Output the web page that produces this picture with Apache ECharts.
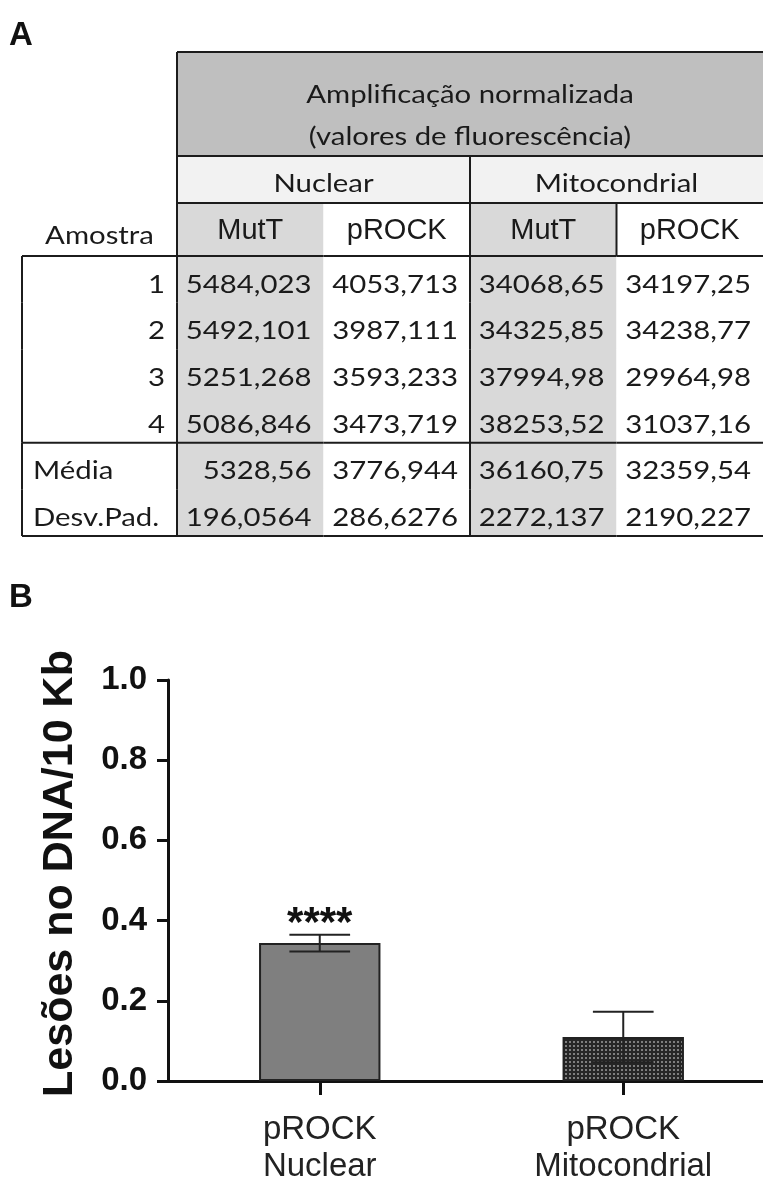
<!DOCTYPE html>
<html>
<head>
<meta charset="utf-8">
<script src="https://cdn.jsdelivr.net/npm/echarts@6/dist/echarts.min.js"></script>
<style>
  html, body { margin: 0; padding: 0; background: #fff; }
  #chart { width: 763px; height: 1180px; }
</style>
</head>
<body>
<div id="chart"></div>
<script>
// ---- Panel A: normalised amplification (fluorescence values) ----
const tableTitle = ['Amplificação normalizada', '(valores de fluorescência)'];
const groups = ['Nuclear', 'Mitocondrial'];
const subColumns = ['MutT', 'pROCK', 'MutT', 'pROCK'];
const sampleHeader = 'Amostra';
const rowLabels = ['1', '2', '3', '4', 'Média', 'Desv.Pad.'];
const nuclearMutT  = ['5484,023', '5492,101', '5251,268', '5086,846', '5328,56', '196,0564'];
const nuclearPROCK = ['4053,713', '3987,111', '3593,233', '3473,719', '3776,944', '286,6276'];
const mitoMutT     = ['34068,65', '34325,85', '37994,98', '38253,52', '36160,75', '2272,137'];
const mitoPROCK    = ['34197,25', '34238,77', '29964,98', '31037,16', '32359,54', '2190,227'];

// ---- Panel B: DNA lesions per 10 kb ----
const barCategories = ['pROCK\nNuclear', 'pROCK\nMitocondrial'];
const lesionMean = [0.344, 0.110];
const lesionSD = [0.021, 0.063];
const significance = ['****', ''];
const yAxisTitle = 'Lesões no DNA/10 Kb';

// ---- styling ----
const TABLE_FONT = 'Lato';
const HEAD_FONT = 'Liberation Sans';
const CHART_FONT = 'Liberation Sans';
const INK = '#1a1a1a';
const RULE = '#1c1c1c';
const SHADE = '#d9d9d9';
const SX = 1.15;              // horizontal stretch of the table lettering

const bodyColumns = [nuclearMutT, nuclearPROCK, mitoMutT, mitoPROCK];
const bodyCells = [];
bodyColumns.forEach((col, c) => col.forEach((v, r) => bodyCells.push([c, r, v])));

function band(api, x, y) {
  const c = api.coord([x, y]);
  const s = api.size([1, 1]);
  return { x: c[0] - s[0] / 2, y: c[1] - s[1] / 2, w: s[0], h: s[1] };
}
function rule(x1, y1, x2, y2) {
  return { type: 'line', z2: 20, shape: { x1, y1, x2, y2 }, style: { stroke: RULE, lineWidth: 2 } };
}
function fill(b, color) {
  return { type: 'rect', z2: 1, shape: { x: b.x, y: b.y - 0.5, width: b.w, height: b.h + 1 }, style: { fill: color } };
}
function label(text, x, y, align, o) {
  o = o || {};
  return {
    type: 'text', x, y, z2: 10, scaleX: o.scaleX != null ? o.scaleX : SX,
    style: {
      text, fill: INK, align, verticalAlign: 'middle',
      fontFamily: o.family || TABLE_FONT, fontSize: o.size || 25.5,
      lineHeight: o.lineHeight || 30
    }
  };
}

// dotted fill for the mitochondrial bar
const dots = document.createElement('canvas');
dots.width = 4; dots.height = 4;
(function () {
  const g = dots.getContext('2d');
  g.fillStyle = '#262626'; g.fillRect(0, 0, 4, 4);
  g.fillStyle = '#7e7e7e'; g.fillRect(1, 1, 2, 2);
})();
const barFills = ['#7f7f7f', { image: dots, repeat: 'repeat' }];

const hiddenCat = (gridIndex, data, inverse) =>
  ({ type: 'category', gridIndex, data, show: false, inverse: !!inverse });
const fixedGrid = g => Object.assign({ outerBoundsMode: 'none', containLabel: false }, g);

const chart = echarts.init(document.getElementById('chart'), null, { renderer: 'canvas' });

chart.setOption({
  animation: false,
  backgroundColor: '#fff',
  title: [
    { text: 'A', left: 9, top: 19, padding: 0, textStyle: { fontFamily: CHART_FONT, fontWeight: 'bold', fontSize: 33, color: '#111' } },
    { text: 'B', left: 9, top: 581, padding: 0, textStyle: { fontFamily: CHART_FONT, fontWeight: 'bold', fontSize: 33, color: '#111' } }
  ],
  grid: [
    fixedGrid({ left: 177, right: 0, top: 52, height: 104 }),    // title row
    fixedGrid({ left: 177, right: 0, top: 156, height: 47 }),    // Nuclear / Mitocondrial
    fixedGrid({ left: 177, right: 0, top: 203, height: 53 }),    // MutT / pROCK
    fixedGrid({ left: 177, right: 0, top: 256, height: 280 }),   // values
    fixedGrid({ left: 22, width: 155, top: 256, height: 280 }),  // sample labels
    fixedGrid({ left: 22, width: 155, top: 203, height: 53 }),   // "Amostra"
    fixedGrid({ left: 168, width: 607, top: 680, height: 401 })  // bar chart
  ],
  xAxis: [
    hiddenCat(0, ['t']),
    hiddenCat(1, groups),
    hiddenCat(2, ['0', '1', '2', '3']),
    hiddenCat(3, ['0', '1', '2', '3']),
    hiddenCat(4, ['s']),
    hiddenCat(5, ['s']),
    {
      type: 'category', gridIndex: 6, data: barCategories,
      axisLine: { show: true, lineStyle: { color: '#111', width: 3 } },
      axisTick: { show: true, alignWithLabel: true, length: 14, lineStyle: { color: '#111', width: 3 } },
      axisLabel: { fontFamily: CHART_FONT, fontSize: 33, lineHeight: 37, color: '#222', margin: 30 },
      splitLine: { show: false }
    }
  ],
  yAxis: [
    hiddenCat(0, ['t']),
    hiddenCat(1, ['g']),
    hiddenCat(2, ['s']),
    hiddenCat(3, rowLabels, true),
    hiddenCat(4, rowLabels, true),
    hiddenCat(5, ['h']),
    {
      type: 'value', gridIndex: 6, min: 0, max: 1, interval: 0.2,
      axisLine: { show: true, lineStyle: { color: '#111', width: 3 } },
      axisTick: { show: true, length: 11, lineStyle: { color: '#111', width: 3 } },
      splitLine: { show: false },
      axisLabel: {
        formatter: v => v.toFixed(1), fontFamily: CHART_FONT, fontWeight: 'bold',
        fontSize: 33, color: '#111', margin: 21
      },
      name: yAxisTitle, nameLocation: 'middle', nameRotate: 90, nameGap: 86,
      nameTextStyle: { fontFamily: CHART_FONT, fontWeight: 'bold', fontSize: 43, color: '#111', padding: [0, 0, 0, 14] }
    }
  ],
  series: [
    { // title row
      type: 'custom', xAxisIndex: 0, yAxisIndex: 0, data: [[0, 0]], silent: true,
      renderItem(params, api) {
        const b = band(api, 0, 0);
        return { type: 'group', children: [
          fill(b, '#bfbfbf'),
          rule(b.x, b.y, b.x + b.w, b.y),
          rule(b.x, b.y, b.x, b.y + b.h),
          rule(b.x, b.y + b.h, b.x + b.w, b.y + b.h),
          label(tableTitle.join('\n'), b.x + b.w / 2, b.y + b.h / 2 + 12, 'center', { lineHeight: 42 })
        ] };
      }
    },
    { // Nuclear / Mitocondrial
      type: 'custom', xAxisIndex: 1, yAxisIndex: 1, data: groups.map((g, i) => [i, 0]), silent: true,
      renderItem(params, api) {
        const i = api.value(0);
        const b = band(api, i, 0);
        return { type: 'group', children: [
          fill(b, '#f2f2f2'),
          rule(b.x, b.y, b.x, b.y + b.h),
          rule(b.x, b.y + b.h, b.x + b.w, b.y + b.h),
          label(groups[i], b.x + b.w / 2, b.y + b.h / 2 + 4.5, 'center')
        ] };
      }
    },
    { // MutT / pROCK
      type: 'custom', xAxisIndex: 2, yAxisIndex: 2, data: subColumns.map((s, i) => [i, 0]), silent: true,
      renderItem(params, api) {
        const i = api.value(0);
        const b = band(api, i, 0);
        const kids = [
          fill(b, i % 2 === 0 ? SHADE : '#fff'),
          rule(b.x, b.y + b.h, b.x + b.w, b.y + b.h),
          label(subColumns[i], b.x + b.w / 2, b.y + b.h / 2 + 1, 'center', { family: HEAD_FONT, size: 29, scaleX: 1 })
        ];
        if (i !== 1) kids.push(rule(b.x, b.y, b.x, b.y + b.h));
        return { type: 'group', children: kids };
      }
    },
    { // values
      type: 'custom', xAxisIndex: 3, yAxisIndex: 3, data: bodyCells.map(d => [d[0], d[1]]), silent: true,
      renderItem(params, api) {
        const c = api.value(0), r = api.value(1);
        const b = band(api, c, r);
        const kids = [
          fill(b, c % 2 === 0 ? SHADE : '#fff'),
          label(bodyCells[params.dataIndex][2], b.x + b.w - 12, b.y + b.h / 2 + 5, 'right')
        ];
        if (c === 0 || c === 2) kids.push(rule(b.x, b.y, b.x, b.y + b.h));
        if (r === 3 || r === 5) kids.push(rule(b.x, b.y + b.h, b.x + b.w, b.y + b.h));
        return { type: 'group', children: kids };
      }
    },
    { // sample labels
      type: 'custom', xAxisIndex: 4, yAxisIndex: 4, data: rowLabels.map((l, r) => [0, r]), silent: true,
      renderItem(params, api) {
        const r = api.value(1);
        const b = band(api, 0, r);
        const text = rowLabels[r];
        const numeric = /^\d+$/.test(text);
        const kids = [
          label(text, numeric ? b.x + b.w - 12 : b.x + 11, b.y + b.h / 2 + 5, numeric ? 'right' : 'left'),
          rule(b.x, b.y, b.x, b.y + b.h)
        ];
        if (r === 0) kids.push(rule(b.x, b.y, b.x + b.w, b.y));
        if (r === 3 || r === 5) kids.push(rule(b.x, b.y + b.h, b.x + b.w, b.y + b.h));
        return { type: 'group', children: kids };
      }
    },
    { // "Amostra"
      type: 'custom', xAxisIndex: 5, yAxisIndex: 5, data: [[0, 0]], silent: true,
      renderItem(params, api) {
        const b = band(api, 0, 0);
        return label(sampleHeader, b.x + b.w / 2, b.y + b.h / 2 + 6.5, 'center');
      }
    },
    { // bars
      type: 'bar', xAxisIndex: 6, yAxisIndex: 6, barWidth: '40%', silent: true,
      data: lesionMean.map((v, i) => ({ value: v, itemStyle: { color: barFills[i] } })),
      itemStyle: { borderColor: '#222', borderWidth: 2 }
    },
    { // SD whiskers and significance marks
      type: 'custom', xAxisIndex: 6, yAxisIndex: 6, z: 5, silent: true,
      data: lesionMean.map((m, i) => [i, m, lesionSD[i]]),
      renderItem(params, api) {
        const i = api.value(0), m = api.value(1), sd = api.value(2);
        const top = api.coord([i, m + sd]);
        const bot = api.coord([i, m - sd]);
        const half = api.size([1, 0])[0] * 0.1;
        const st = { stroke: '#222', lineWidth: 2 };
        const kids = [
          { type: 'line', shape: { x1: top[0], y1: top[1], x2: bot[0], y2: bot[1] }, style: st },
          { type: 'line', shape: { x1: top[0] - half, y1: top[1], x2: top[0] + half, y2: top[1] }, style: st },
          { type: 'line', shape: { x1: bot[0] - half, y1: bot[1], x2: bot[0] + half, y2: bot[1] }, style: st }
        ];
        if (significance[i]) {
          kids.push({
            type: 'text', x: top[0], y: top[1] - 10,
            style: { text: significance[i], fill: '#111', align: 'center', verticalAlign: 'middle',
                     fontFamily: CHART_FONT, fontWeight: 'bold', fontSize: 42 }
          });
        }
        return { type: 'group', children: kids };
      }
    }
  ]
});
</script>
</body>
</html>
